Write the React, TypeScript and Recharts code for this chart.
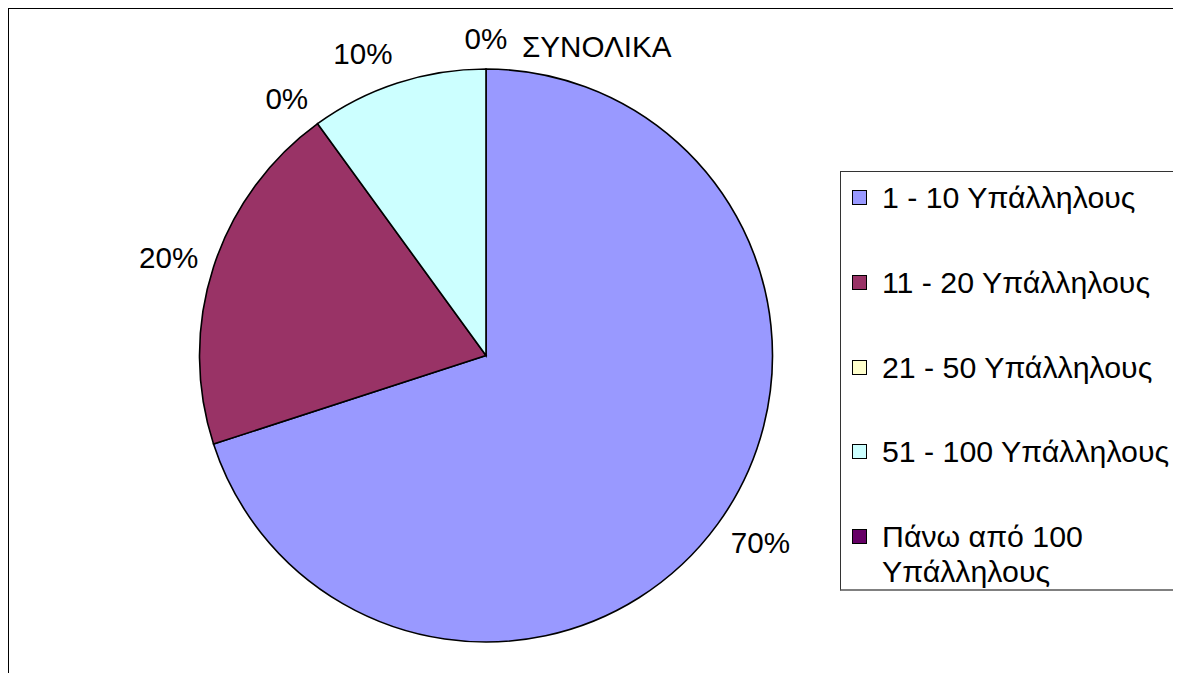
import React from 'react';
import { PieChart, Pie, Cell, Legend } from 'recharts';

const categories = [
  '1 - 10 Υπάλληλους',
  '11 - 20 Υπάλληλους',
  '21 - 50 Υπάλληλους',
  '51 - 100 Υπάλληλους',
  'Πάνω από 100 Υπάλληλους',
];
const values = [70, 20, 0, 10, 0];
const colors = ['#9999FF', '#993366', '#FFFFCC', '#CCFFFF', '#660066'];
const title = 'ΣΥΝΟΛΙΚΑ';

const data = categories.map((name, i) => ({ name, value: values[i] }));

const FONT = '"Liberation Sans", Arial, sans-serif';
const LABEL_SIZE = 29.6;
const LEGEND_SIZE = 30.3;

const renderLabel = (props: any) => {
  const { cx, cy, midAngle, outerRadius, percent, index } = props;
  const RAD = Math.PI / 180;
  const c = Math.cos(-midAngle * RAD);
  const s = Math.sin(-midAngle * RAD);
  const text = `${Math.round(percent * 100)}%`;
  const digits = text.length - 1;
  const w = LABEL_SIZE * (0.556 * digits + 0.889);
  const ex = cx + outerRadius * c;
  const ey = cy + outerRadius * s;
  const k = Math.max(-1, Math.min(1, c * 5));
  const x = ex + 16 * c + (k * w) / 2;
  const y = ey + 31 * s;
  return (
    <text
      key={`lbl-${index}`}
      x={x}
      y={y + (LABEL_SIZE * 0.716) / 2}
      textAnchor="middle"
      fontSize={LABEL_SIZE}
      fontFamily={FONT}
      fill="#000"
    >
      {text}
    </text>
  );
};

const renderLegend = (props: any) => {
  const payload = props.payload || [];
  return (
    <div
      style={{
        width: 338,
        height: 420,
        boxSizing: 'border-box',
        border: '1.2px solid #333',
        borderBottom: '2px solid #808080',
        background: '#fff',
        position: 'relative',
        fontFamily: FONT,
      }}
    >
      {payload.map((entry: any, i: number) => (
        <div
          key={`leg-${i}`}
          style={{
            position: 'absolute',
            left: 11,
            top: 8.3 + i * 84.6,
            display: 'flex',
            alignItems: 'flex-start',
          }}
        >
          <div
            style={{
              width: 15,
              height: 15,
              boxSizing: 'border-box',
              border: '1.5px solid #000',
              background: entry.color,
              marginTop: 10,
              flex: '0 0 auto',
            }}
          />
          <div
            style={{
              marginLeft: 15,
              width: 294,
              fontSize: LEGEND_SIZE,
              lineHeight: '35px',
              color: '#000',
              textAlign: 'left',
            }}
          >
            {entry.value}
          </div>
        </div>
      ))}
    </div>
  );
};

export default function App() {
  return (
    <div style={{ position: 'relative', width: 1173, height: 665 }}>
      <div
        style={{
          position: 'absolute',
          left: -1,
          top: -1,
          width: 1174,
          height: 666,
          boxSizing: 'border-box',
          borderTop: '2px solid #000',
          borderLeft: '2px solid #000',
        }}
      />
      <PieChart
        width={1173}
        height={665}
        margin={{ top: 0, right: 0, bottom: 0, left: 0 }}
        style={{ position: 'absolute', left: 0, top: 0 }}
      >
        <Pie
          data={data}
          dataKey="value"
          nameKey="name"
          cx={478}
          cy={347.5}
          outerRadius={286.5}
          startAngle={90}
          endAngle={-270}
          stroke="#000"
          strokeWidth={1.6}
          label={renderLabel}
          labelLine={false}
          isAnimationActive={false}
        >
          {data.map((d, i) => (
            <Cell key={`c-${i}`} fill={colors[i]} />
          ))}
        </Pie>
        <Legend
          layout="vertical"
          align="center"
          verticalAlign="middle"
          content={renderLegend}
          wrapperStyle={{ left: 832, top: 163, width: 338, height: 420 }}
        />
        <text
          x={588.7}
          y={49}
          textAnchor="middle"
          fontSize={LABEL_SIZE}
          fontFamily={FONT}
          fill="#000"
        >
          {title}
        </text>
      </PieChart>
    </div>
  );
}
